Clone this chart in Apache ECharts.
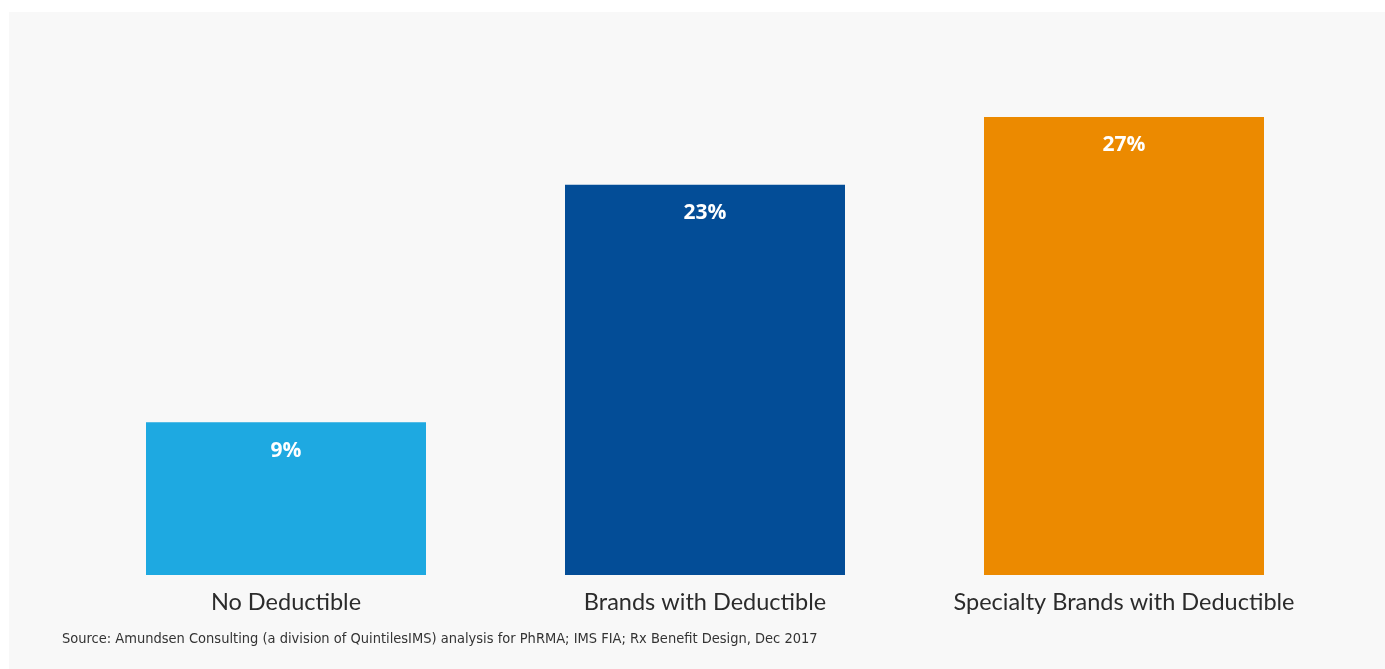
<!DOCTYPE html>
<html>
<head>
<meta charset="utf-8">
<script src="https://cdn.jsdelivr.net/npm/echarts@6/dist/echarts.min.js"></script>
<style>
  html, body { margin: 0; padding: 0; background: #ffffff; }
  #main { width: 1385px; height: 669px; }
</style>
</head>
<body>
<div id="main"></div>
<script>
// chart data
var categories = ['No Deductible', 'Brands with Deductible', 'Specialty Brands with Deductible'];
var values = [9, 23, 27];
var barColors = ['#1ea9e1', '#034d97', '#ec8a00'];
var sourceNote = 'Source: Amundsen Consulting (a division of QuintilesIMS) analysis for PhRMA; IMS FIA; Rx Benefit Design, Dec 2017';

var myChart = echarts.init(document.getElementById('main'));

var option = {
  backgroundColor: '#ffffff',
  animation: false,
  graphic: [
    {
      type: 'rect',
      z: -10,
      silent: true,
      shape: { x: 9, y: 12, width: 1376, height: 657 },
      style: { fill: '#f8f8f8' }
    },
    {
      type: 'text',
      left: 62,
      top: 632,
      style: {
        text: sourceNote,
        fontFamily: '"Liberation Sans Narrow", "DejaVu Sans Condensed", sans-serif',
        fontSize: 14.5,
        fill: '#333333'
      }
    }
  ],
  grid: {
    left: 76.5,
    right: 51.5,
    top: 66,
    bottom: 94
  },
  xAxis: {
    type: 'category',
    data: categories,
    axisLine: { show: false },
    axisTick: { show: false },
    axisLabel: {
      interval: 0,
      margin: 15,
      fontFamily: 'Lato, "Open Sans", sans-serif',
      fontSize: 23.5,
      color: '#2b2b2b'
    }
  },
  yAxis: {
    type: 'value',
    min: 0,
    max: 30,
    show: false,
    splitLine: { show: false }
  },
  series: [
    {
      type: 'bar',
      barWidth: 280,
      data: values.map(function (v, i) {
        return { value: v, itemStyle: { color: barColors[i] } };
      }),
      label: {
        show: true,
        position: 'insideTop',
        distance: 18,
        formatter: '{c}%',
        fontFamily: '"Open Sans", sans-serif',
        fontWeight: 'bold',
        fontSize: 21,
        color: '#ffffff'
      }
    }
  ]
};

myChart.setOption(option);
</script>
</body>
</html>
